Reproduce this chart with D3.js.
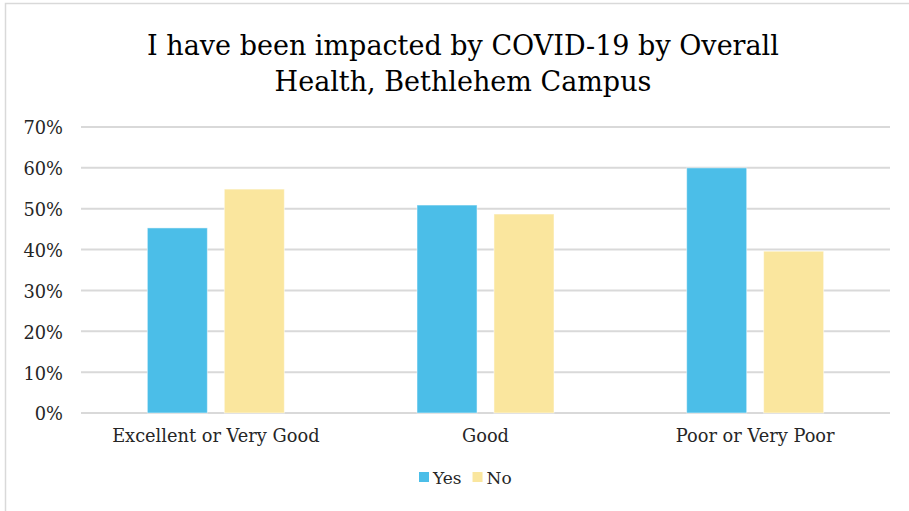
<!DOCTYPE html>
<html><head><meta charset="utf-8">
<script src="https://cdn.jsdelivr.net/npm/d3@7"></script>
<style>body{margin:0;background:#fff}svg{display:block}</style>
</head><body>
<svg id="c" width="909" height="511"></svg>
<script>
const categories = ["Excellent or Very Good", "Good", "Poor or Very Poor"];
const seriesNames = ["Yes", "No"];
const yesValues = [0.453, 0.509, 0.600];
const noValues = [0.548, 0.487, 0.396];
const yTicks = [0, 0.1, 0.2, 0.3, 0.4, 0.5, 0.6, 0.7];
const colors = ["#4BBEE8", "#FAE69E"];
const titleLines = ["I have been impacted by COVID-19 by Overall", "Health, Bethlehem Campus"];

const svg = d3.select("#c");
const font = "'DejaVu Serif', serif";
const W = 909, H = 511;
svg.append("rect").attr("x", 5.5).attr("y", 3.5).attr("width", W + 10).attr("height", H + 10)
  .attr("fill", "#fff").attr("stroke", "#d9d9d9").attr("stroke-width", 1.5);

const m = {left: 81, right: 890, top: 127, bottom: 413};
const x0 = d3.scaleBand().domain(categories).range([m.left, m.right]).paddingInner(0).paddingOuter(0);
const x1 = d3.scaleBand().domain(seriesNames).range([0, 137]).paddingInner(0.22);
const y = d3.scaleLinear().domain([0, 0.7]).range([m.bottom, m.top]);

// y axis labels
const yAxis = d3.axisLeft(y).tickValues(yTicks).tickFormat(d3.format(".0%")).tickSize(0).tickPadding(18);
const gy = svg.append("g").attr("transform", `translate(${m.left},0)`).call(yAxis);
gy.select(".domain").remove();
gy.selectAll("text").attr("font-family", font).attr("font-size", 17.8).attr("dy", "0.39em").attr("fill", "#262626");
// gridlines
svg.append("g").selectAll("line").data(yTicks).join("line")
  .attr("x1", m.left).attr("x2", m.right).attr("y1", d => y(d)).attr("y2", d => y(d))
  .attr("stroke", "#d9d9d9").attr("stroke-width", 2);

const data = categories.map((c, i) => ({c, vals: [yesValues[i], noValues[i]]}));
const g = svg.append("g");
data.forEach(d => {
  const gx = x0(d.c) + (x0.bandwidth() - 137) / 2;
  d.vals.forEach((v, j) => {
    g.append("rect")
      .attr("x", gx + x1(seriesNames[j])).attr("width", x1.bandwidth())
      .attr("y", y(v)).attr("height", y(0) - y(v))
      .attr("fill", colors[j]).attr("stroke", "#fff").attr("stroke-opacity", 0.5).attr("stroke-width", 1);
  });
});

// x axis labels
const xAxis = d3.axisBottom(x0).tickSize(0).tickPadding(16.5);
const gx = svg.append("g").attr("transform", `translate(0,${m.bottom})`).call(xAxis);
gx.select(".domain").remove();
gx.selectAll("text").attr("font-family", font).attr("font-size", 17.8).attr("fill", "#262626");

// title
svg.append("g").selectAll("text").data(titleLines).join("text")
  .attr("x", 463).attr("y", (d, i) => 55 + i * 36)
  .attr("text-anchor", "middle").attr("font-family", font).attr("font-size", 27).attr("fill", "#000")
  .text(d => d);

// legend
const lg = svg.append("g").attr("transform", "translate(419,472)");
let lx = 0;
seriesNames.forEach((s, i) => {
  lg.append("rect").attr("x", lx).attr("y", 0).attr("width", 10).attr("height", 10).attr("fill", colors[i]);
  const t = lg.append("text").attr("x", lx + 14).attr("y", 12).attr("font-family", font)
    .attr("font-size", 17).attr("fill", "#262626").text(s);
  lx += 14 + t.node().getComputedTextLength() + 11;
});
</script>
</body></html>
